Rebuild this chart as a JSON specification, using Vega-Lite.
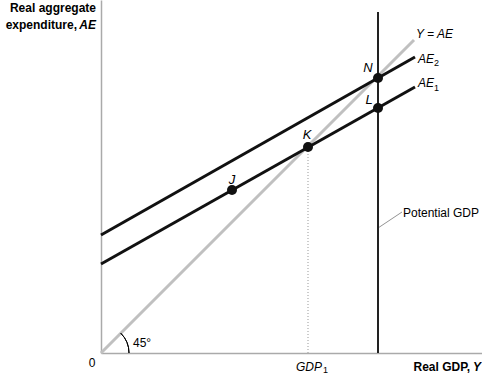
{
  "$schema": "https://vega.github.io/schema/vega-lite/v6.json",
  "width": 381,
  "height": 353,
  "autosize": {"type": "none"},
  "padding": {"left": 101, "top": 0, "right": 0, "bottom": 21},
  "background": "white",
  "config": {"view": {"stroke": null}, "text": {"font": "Liberation Sans", "fontSize": 12, "color": "#000"}},
  "datasets": {
    "yae": [{"x": 0, "y": 0}, {"x": 313, "y": 313}],
    "ae": [
      {"s": "AE1", "x": 0, "y": 89}, {"s": "AE1", "x": 314, "y": 266},
      {"s": "AE2", "x": 0, "y": 118}, {"s": "AE2", "x": 314, "y": 296}
    ],
    "potential": [{"x": 277, "y": 0}, {"x": 277, "y": 341}],
    "gdp1": [{"x": 207, "y": 0}, {"x": 207, "y": 206}],
    "pointer": [{"x": 277, "y": 125}, {"x": 301, "y": 141}],
    "origin": [{"x": 0, "y": 0}],
    "pts": [
      {"name": "J", "x": 131, "y": 163}, {"name": "K", "x": 207, "y": 206},
      {"name": "L", "x": 277, "y": 245}, {"name": "N", "x": 277, "y": 275}
    ],
    "ptlabels": [
      {"t": "J", "x": 131, "y": 173}, {"t": "K", "x": 206, "y": 218},
      {"t": "N", "x": 267, "y": 285}, {"t": "L", "x": 268, "y": 253}
    ],
    "italic": [
      {"t": "Y = AE", "x": 315, "y": 319}, {"t": "AE", "x": 317, "y": 294},
      {"t": "AE", "x": 317, "y": 270}, {"t": "GDP", "x": 195, "y": -14}
    ],
    "subs": [
      {"t": "2", "x": 333, "y": 290}, {"t": "1", "x": 333, "y": 265}, {"t": "1", "x": 222, "y": -17}
    ],
    "bold": [
      {"t": "Real aggregate", "x": -5, "y": 345}, {"t": "expenditure,", "x": -24, "y": 328},
      {"t": "Real GDP,", "x": 369, "y": -14}
    ],
    "bolditalic": [{"t": "AE", "x": -5, "y": 328}, {"t": "Y", "x": 380, "y": -14}],
    "plain": [{"t": "45°", "x": 32, "y": 10}, {"t": "Potential GDP", "x": 302, "y": 140}],
    "zero": [{"t": "0", "x": -9, "y": -10}]
  },
  "encoding": {
    "x": {"field": "x", "type": "quantitative", "scale": {"domain": [0, 381], "nice": false, "zero": false},
      "axis": {"labels": false, "ticks": false, "title": null, "grid": false, "domainColor": "#aaa", "domainWidth": 1.5}},
    "y": {"field": "y", "type": "quantitative", "scale": {"domain": [0, 353], "nice": false, "zero": false},
      "axis": {"labels": false, "ticks": false, "title": null, "grid": false, "domainColor": "#aaa", "domainWidth": 1.5}}
  },
  "layer": [
    {"data": {"name": "gdp1"}, "mark": {"type": "line", "color": "#999", "strokeWidth": 1, "strokeDash": [1, 2]}},
    {"data": {"name": "pointer"}, "mark": {"type": "line", "color": "#777", "strokeWidth": 0.8}},
    {"data": {"name": "yae"}, "mark": {"type": "line", "color": "#c0c0c0", "strokeWidth": 3}},
    {"data": {"name": "potential"}, "mark": {"type": "line", "color": "#222", "strokeWidth": 2}},
    {"data": {"name": "ae"}, "mark": {"type": "line", "color": "#111", "strokeWidth": 3},
      "encoding": {"detail": {"field": "s"}}},
    {"data": {"name": "pts"}, "mark": {"type": "circle", "color": "#111", "size": 100, "opacity": 1}},
    {"data": {"name": "origin"}, "mark": {"type": "arc", "theta": 0.785, "theta2": 1.571, "radius": 28, "radius2": 28, "fill": null, "stroke": "#000", "strokeWidth": 1}},
    {"data": {"name": "ptlabels"}, "mark": {"type": "text", "fontStyle": "italic", "fontSize": 13, "align": "center", "baseline": "middle"},
      "encoding": {"text": {"field": "t"}}},
    {"data": {"name": "italic"}, "mark": {"type": "text", "fontStyle": "italic", "align": "left", "baseline": "middle"},
      "encoding": {"text": {"field": "t"}}},
    {"data": {"name": "subs"}, "mark": {"type": "text", "fontSize": 9, "align": "left", "baseline": "middle"},
      "encoding": {"text": {"field": "t"}}},
    {"data": {"name": "bold"}, "mark": {"type": "text", "fontWeight": "bold", "align": "right", "baseline": "middle"},
      "encoding": {"text": {"field": "t"}}},
    {"data": {"name": "bolditalic"}, "mark": {"type": "text", "fontWeight": "bold", "fontStyle": "italic", "align": "right", "baseline": "middle"},
      "encoding": {"text": {"field": "t"}}},
    {"data": {"name": "plain"}, "mark": {"type": "text", "align": "left", "baseline": "middle"},
      "encoding": {"text": {"field": "t"}}},
    {"data": {"name": "zero"}, "mark": {"type": "text", "align": "center", "baseline": "middle"},
      "encoding": {"text": {"field": "t"}}}
  ]
}
